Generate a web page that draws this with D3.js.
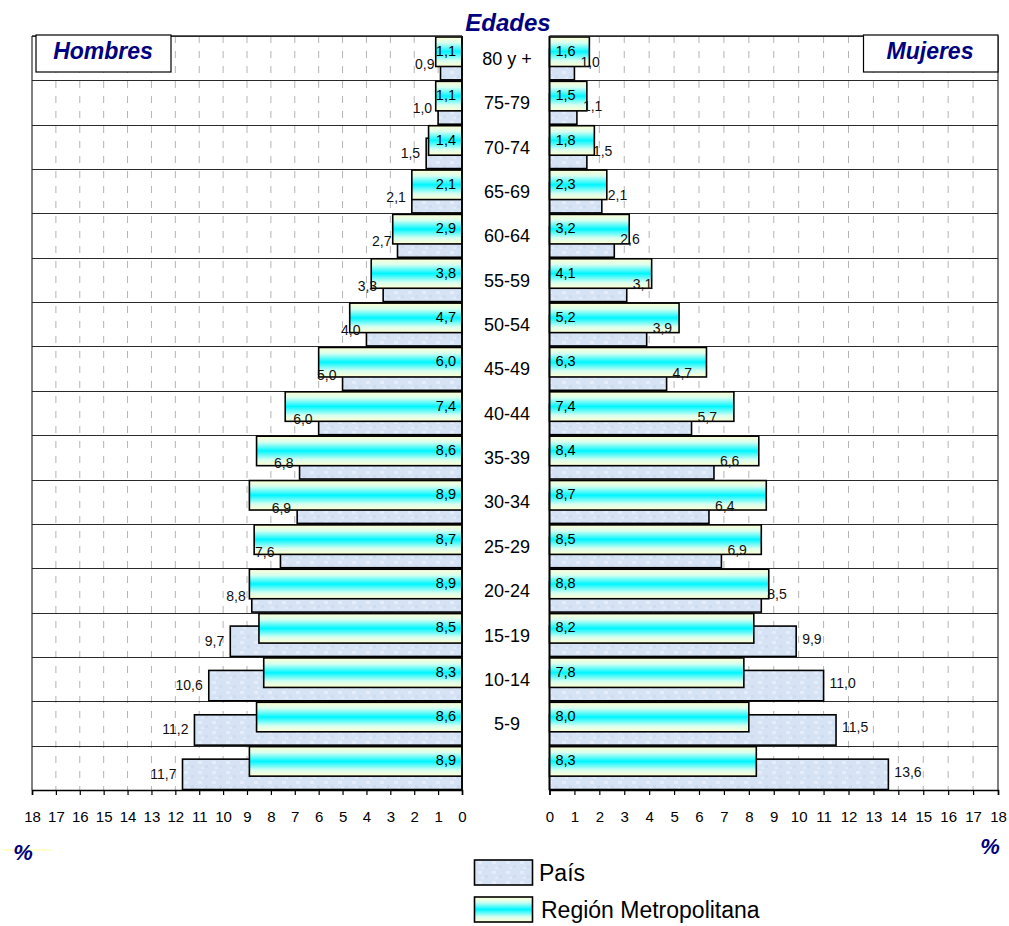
<!DOCTYPE html>
<html>
<head>
<meta charset="utf-8">
<script src="https://cdn.jsdelivr.net/npm/d3@7/dist/d3.min.js"></script>
<style>
  html, body { margin: 0; padding: 0; background: #fff; }
  svg { display: block; font-family: "Liberation Sans", Arial, sans-serif; }
</style>
</head>
<body>
<svg id="chart" width="1009" height="926"></svg>
<script>
// ---- data ----
const categories = ["80 y +","75-79","70-74","65-69","60-64","55-59","50-54","45-49","40-44","35-39","30-34","25-29","20-24","15-19","10-14","5-9",""];
const hombresRM   = [1.1,1.1,1.4,2.1,2.9,3.8,4.7,6.0,7.4,8.6,8.9,8.7,8.9,8.5,8.3,8.6,8.9];
const hombresPais = [0.9,1.0,1.5,2.1,2.7,3.3,4.0,5.0,6.0,6.8,6.9,7.6,8.8,9.7,10.6,11.2,11.7];
const mujeresRM   = [1.6,1.5,1.8,2.3,3.2,4.1,5.2,6.3,7.4,8.4,8.7,8.5,8.8,8.2,7.8,8.0,8.3];
const mujeresPais = [1.0,1.1,1.5,2.1,2.6,3.1,3.9,4.7,5.7,6.6,6.4,6.9,8.5,9.9,11.0,11.5,13.6];
const tickValues  = d3.range(0, 19);
const seriesNames = ["País","Región Metropolitana"];

const fmt = v => d3.format(".1f")(v).replace(".", ",");
const navy = "#000080";

const svg = d3.select("#chart");
const defs = svg.append("defs");

// gradient for Región Metropolitana
const grad = defs.append("linearGradient").attr("id","rmGrad")
  .attr("x1",0).attr("y1",0).attr("x2",0).attr("y2",1);
[[0,"#ffffd2"],[0.2,"#d8fff0"],[0.5,"#00f6ff"],[0.8,"#d8fff0"],[1,"#ffffd2"]]
  .forEach(([o,c]) => grad.append("stop").attr("offset",o).attr("stop-color",c));

// texture for País
const pat = defs.append("pattern").attr("id","paisPat").attr("patternUnits","userSpaceOnUse")
  .attr("width",14).attr("height",10);
pat.append("rect").attr("width",14).attr("height",10).attr("fill","#d6e3f5");
pat.append("rect").attr("x",2).attr("y",1).attr("width",4).attr("height",3).attr("fill","#e4edf9");
pat.append("rect").attr("x",9).attr("y",5).attr("width",3).attr("height",3).attr("fill","#cfdcf0");
pat.append("rect").attr("x",5).attr("y",7).attr("width",3).attr("height",2).attr("fill","#e2ebf8");

// ---- scales ----
const plotTop = 36, plotBottom = 790;
const y = d3.scaleBand().domain(d3.range(categories.length)).range([plotTop, plotBottom]).padding(0);
const bw = y.bandwidth();
const xL = d3.scaleLinear().domain([0,18]).range([462, 32]);
const xR = d3.scaleLinear().domain([0,18]).range([549.5, 998]);

function panel(x, rm, pais, side) {
  const g = svg.append("g");
  const x0 = x(0), x18 = x(18);
  const xmin = Math.min(x0, x18), xmax = Math.max(x0, x18);
  // vertical dashed gridlines
  g.append("g").selectAll("line").data(d3.range(1,18)).join("line")
    .attr("x1", d => x(d)).attr("x2", d => x(d))
    .attr("y1", plotTop).attr("y2", plotBottom)
    .attr("stroke", "#b4b4b4").attr("stroke-width", 1).attr("stroke-dasharray", "7,8");
  // row separators
  g.append("g").selectAll("line").data(d3.range(categories.length + 1)).join("line")
    .attr("x1", xmin).attr("x2", xmax)
    .attr("y1", d => Math.round(plotTop + d * bw) + 0.5).attr("y2", d => Math.round(plotTop + d * bw) + 0.5)
    .attr("stroke", "#2a2a2a").attr("stroke-width", 1.2);
  // outer border (far side)
  g.append("line").attr("x1", x18).attr("x2", x18).attr("y1", plotTop).attr("y2", plotBottom)
    .attr("stroke", "#2a2a2a").attr("stroke-width", 1.2);
  // País bars
  g.append("g").selectAll("rect").data(pais).join("rect")
    .attr("x", d => Math.min(x(0), x(d))).attr("width", d => Math.abs(x(d) - x(0)))
    .attr("y", (d,i) => y(i) + 13.5).attr("height", bw - 14)
    .attr("fill", "url(#paisPat)").attr("stroke", "#000").attr("stroke-width", 1.6);
  // RM bars
  g.append("g").selectAll("rect").data(rm).join("rect")
    .attr("x", d => Math.min(x(0), x(d))).attr("width", d => Math.abs(x(d) - x(0)))
    .attr("y", (d,i) => y(i) + 1).attr("height", 29.5)
    .attr("fill", "url(#rmGrad)").attr("stroke", "#000").attr("stroke-width", 1.6);
  // zero axis line
  g.append("line").attr("x1", x0).attr("x2", x0).attr("y1", plotTop).attr("y2", plotBottom)
    .attr("stroke", "#000").attr("stroke-width", 1.6);
  // RM labels (inside, near zero)
  g.append("g").selectAll("text").data(rm).join("text")
    .attr("x", side === "L" ? x0 - 6 : x0 + 6)
    .attr("y", (d,i) => y(i) + 16)
    .attr("dominant-baseline", "middle")
    .attr("text-anchor", side === "L" ? "end" : "start")
    .attr("font-size", 14.5).attr("fill", "#000")
    .text(d => fmt(d));
  // País labels (outside end)
  g.append("g").selectAll("text").data(pais).join("text")
    .attr("x", d => side === "L" ? x(d) - 6 : x(d) + 6)
    .attr("y", (d,i) => y(i) + bw - (side === "L" ? 15 : 17))
    .attr("dominant-baseline", "middle")
    .attr("text-anchor", side === "L" ? "end" : "start")
    .attr("font-size", 14).attr("fill", "#111")
    .text(d => fmt(d));
  // bottom axis
  const ax = g.append("g").attr("transform", `translate(0,${plotBottom})`)
    .call(d3.axisBottom(x).tickValues(tickValues).tickSize(5).tickPadding(16).tickFormat(d3.format("d")));
  ax.select(".domain").attr("stroke", "#000").attr("stroke-width", 1.6);
  ax.selectAll(".tick line").attr("stroke", "#000").attr("stroke-width", 1.2);
  ax.selectAll(".tick text").attr("font-size", 15).attr("fill", "#000")
    .attr("font-family", "'Liberation Sans', Arial, sans-serif");
  // top border
  g.append("line").attr("x1", xmin).attr("x2", xmax).attr("y1", plotTop).attr("y2", plotTop)
    .attr("stroke", "#2a2a2a").attr("stroke-width", 1.4);
}

panel(xL, hombresRM, hombresPais, "L");
panel(xR, mujeresRM, mujeresPais, "R");

// category labels
svg.append("g").selectAll("text").data(categories).join("text")
  .attr("x", 507).attr("y", (d,i) => y(i) + bw / 2 + 2)
  .attr("dominant-baseline", "middle").attr("text-anchor", "middle")
  .attr("font-size", 18).attr("fill", "#000")
  .text(d => d);

// titles
const titleFont = { "font-weight": "bold", "font-style": "italic", "fill": navy };
function title(txt, x, yy, size, anchor) {
  const t = svg.append("text").attr("x", x).attr("y", yy).attr("font-size", size)
    .attr("text-anchor", anchor || "middle").text(txt);
  Object.entries(titleFont).forEach(([k,v]) => t.attr(k, v));
  return t;
}
title("Edades", 508, 31, 24);

svg.append("rect").attr("x", 36).attr("y", 35).attr("width", 135).attr("height", 37)
  .attr("fill", "#fff").attr("stroke", "#000").attr("stroke-width", 1.2);
title("Hombres", 103, 59, 23);
svg.append("rect").attr("x", 863.5).attr("y", 35).attr("width", 134.5).attr("height", 37)
  .attr("fill", "#fff").attr("stroke", "#000").attr("stroke-width", 1.2);
title("Mujeres", 930, 59, 23);

svg.append("line").attr("x1", 2).attr("x2", 52).attr("y1", 850).attr("y2", 850)
  .attr("stroke", "#ffff99").attr("stroke-width", 1);
title("%", 23, 860, 22);
title("%", 990, 854, 22);

// legend
const legend = svg.append("g");
const lg = [
  { name: seriesNames[0], fill: "url(#paisPat)", y: 860 },
  { name: seriesNames[1], fill: "url(#rmGrad)", y: 897 }
];
legend.selectAll("rect").data(lg).join("rect")
  .attr("x", 474.5).attr("y", d => d.y).attr("width", 58).attr("height", 25)
  .attr("fill", d => d.fill).attr("stroke", "#000").attr("stroke-width", 1.6);
legend.selectAll("text").data(lg).join("text")
  .attr("x", (d,i) => i === 0 ? 539 : 541).attr("y", d => d.y + 21)
  .attr("font-size", 23).attr("fill", "#000")
  .text(d => d.name);
</script>
</body>
</html>
